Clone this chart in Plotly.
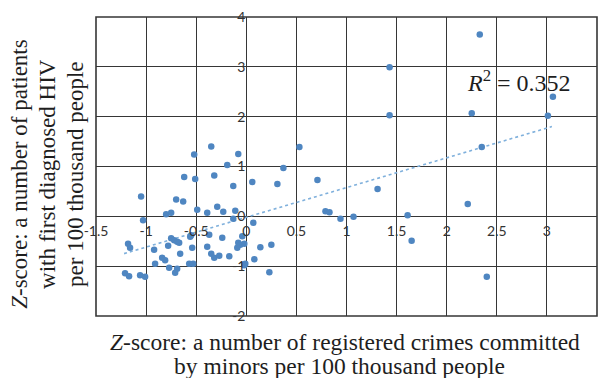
import plotly.graph_objects as go

# Data (z-scores)
crimes_z = [-0.35, -0.52, -0.08, 0.53, -0.19, 0.37, -0.62, -0.51, -0.32, 0.06,
            -0.13, 0.31, 0.71, -1.05, -0.70, -0.63, -0.49, -0.39, -0.29, -0.23,
            -0.11, -0.80, -0.75, -1.03, -0.13, 0.07, 0.79, 0.83, 0.94, -1.18,
            -1.16, -0.92, -0.78, -0.75, -0.72, -0.69, -0.67, -0.56, -0.55, -0.37,
            -0.24, -0.04, -0.54, -0.39, -0.08, -0.06, -0.02, -0.09, 0.14, 0.25,
            -0.66, -0.84, -0.81, -0.35, -0.32, -0.27, -0.17, 0.08, -0.91, -0.77,
            -0.69, -0.71, -0.57, -0.53, -0.01, -0.02, -1.21, -1.17, -1.06, -1.01,
            0.23, 2.33, 1.43, 1.43, 2.25, 3.06, 3.01, 2.35, 1.31, 2.21,
            1.61, 1.07, 1.65, 2.40]
hiv_z = [1.40, 1.24, 1.25, 1.39, 1.03, 0.97, 0.79, 0.75, 0.82, 0.69,
         0.61, 0.65, 0.73, 0.40, 0.34, 0.30, 0.13, 0.07, 0.19, 0.09,
         0.11, 0.04, 0.07, -0.08, -0.05, -0.13, 0.10, 0.08, -0.05, -0.55,
         -0.63, -0.67, -0.59, -0.44, -0.48, -0.51, -0.53, -0.41, -0.38, -0.37,
         -0.43, -0.40, -0.63, -0.61, -0.53, -0.57, -0.55, -0.63, -0.62, -0.57,
         -0.75, -0.83, -0.88, -0.75, -0.83, -0.79, -0.80, -0.86, -0.95, -1.03,
         -1.05, -1.13, -0.95, -0.95, -0.95, -0.98, -1.14, -1.20, -1.18, -1.21,
         -1.12, 3.65, 2.99, 2.03, 2.07, 2.40, 2.02, 1.39, 0.55, 0.25,
         0.02, -0.01, -0.49, -1.21]

# Linear trend line
trend_slope = 0.597
trend_intercept = -0.02
trend_x = [-1.22, 3.05]
trend_y = [trend_slope * v + trend_intercept for v in trend_x]

r2_text = "<i>R</i><sup>2</sup> = 0.352"

x_tickvals = [-1.5, -1, -0.5, 0, 0.5, 1, 1.5, 2, 2.5, 3, 3.5]
x_ticktext = ["-1.5", "-1", "-0.5", "0", "0.5", "1", "1.5", "2", "2.5", "3", "3.5"]
y_tickvals = [-2, -1, 0, 1, 2, 3, 4]
y_ticktext = ["-2", "-1", "0", "1", "2", "3", "4"]

x_title_lines = ["<i>Z</i>-score: a number of registered crimes committed",
                 "by minors per 100 thousand people"]
y_title_lines = ["<i>Z</i>-score: a number of patients",
                 "with first diagnosed HIV",
                 "per 100 thousand people"]

GRID = "#363636"
SERIF = "Liberation Serif, Times New Roman, serif"
TXT = "#1e1e1e"

fig = go.Figure()
fig.add_trace(go.Scatter(
    x=trend_x, y=trend_y, mode="lines",
    line=dict(color="#7fb0dc", width=1.6, dash="dot"),
    hoverinfo="skip", showlegend=False))
fig.add_trace(go.Scatter(
    x=crimes_z, y=hiv_z, mode="markers",
    marker=dict(color="#4f86c1", size=6.5, line=dict(width=0)),
    showlegend=False))

annotations = [
    dict(text=r2_text, x=2.72, y=2.72, xref="x", yref="y", showarrow=False,
         font=dict(family=SERIF, size=24, color=TXT)),
]
# x-axis title lines (paper positions)
for txt, xp, yp in zip(x_title_lines, [0.497, 0.487], [-0.088, -0.166]):
    annotations.append(dict(text=txt, xref="paper", yref="paper", x=xp, y=yp,
                            xanchor="center", yanchor="middle", showarrow=False,
                            font=dict(family=SERIF, size=23.5, color=TXT)))
# y-axis title lines (rotated)
for txt, xp in zip(y_title_lines, [-0.152, -0.096, -0.040]):
    annotations.append(dict(text=txt, xref="paper", yref="paper", x=xp, y=0.475,
                            xanchor="center", yanchor="middle", showarrow=False,
                            textangle=-90,
                            font=dict(family=SERIF, size=23, color=TXT)))

fig.update_layout(
    width=600, height=378,
    margin=dict(l=96, r=3, t=17, b=62),
    paper_bgcolor="white", plot_bgcolor="white",
    xaxis=dict(range=[-1.5, 3.5], tickvals=x_tickvals, ticktext=x_ticktext,
               showgrid=True, gridcolor=GRID, gridwidth=1.4,
               zeroline=False, showline=False, ticks="",
               anchor="free", position=1/3, ticklabelstandoff=5),
    yaxis=dict(range=[-2, 4], tickvals=y_tickvals, ticktext=y_ticktext,
               showgrid=True, gridcolor=GRID, gridwidth=1.4,
               zeroline=False, showline=False, ticks="",
               anchor="free", position=0.3, ticklabelstandoff=1),
    shapes=[dict(type="rect", xref="paper", yref="paper", x0=0, y0=0, x1=1, y1=1,
                 line=dict(color=GRID, width=1.6))],
    annotations=annotations,
)
fig.update_xaxes(tickfont=dict(family="Lato, Liberation Sans, Arial", size=14, color="#333333"))
fig.update_yaxes(tickfont=dict(family="Lato, Liberation Sans, Arial", size=14, color="#333333"))

fig.write_html("out.html")
